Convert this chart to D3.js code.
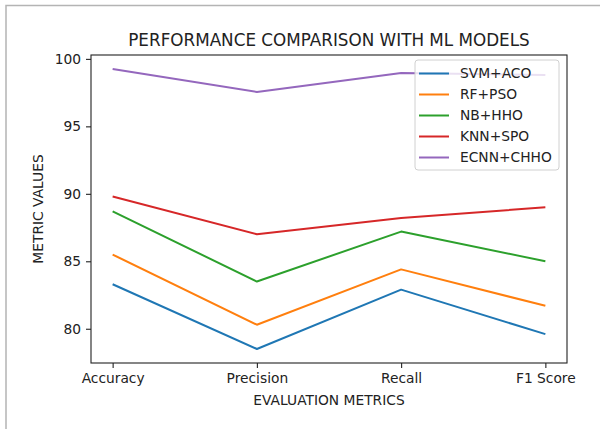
<!DOCTYPE html>
<html>
<head>
<meta charset="utf-8">
<script src="https://cdn.jsdelivr.net/npm/d3@7"></script>
<style>
    body { margin: 0; background: #fff; }
    svg { display: block; font-family: "DejaVu Sans", sans-serif; }
</style>
</head>
<body>
<div id="chart"></div>
<script>
// chart data
const metrics = ['Accuracy', 'Precision', 'Recall', 'F1 Score'];
const models = ['SVM+ACO', 'RF+PSO', 'NB+HHO', 'KNN+SPO', 'ECNN+CHHO'];
const svmAco = [83.3, 78.5, 82.9, 79.6];
const rfPso = [85.5, 80.3, 84.4, 81.7];
const nbHho = [88.7, 83.5, 87.2, 85.0];
const knnSpo = [89.8, 87.0, 88.2, 89.0];
const ecnnChho = [99.25, 97.55, 98.95, 98.8];
const yTicks = [80, 85, 90, 95, 100];

const seriesValues = [svmAco, rfPso, nbHho, knnSpo, ecnnChho];
const colors = ['#1f77b4', '#ff7f0e', '#2ca02c', '#d62728', '#9467bd'];

const width = 600,
    height = 429,
    margin = {top: 55, right: 33, bottom: 66, left: 91};

const svg = d3.select('#chart').append('svg')
    .attr('width', width)
    .attr('height', height);

// light frame round the picture
svg.append('path')
    .attr('d', 'M6,429 V5.5 H600')
    .attr('fill', 'none')
    .attr('stroke', '#b4b4b4')
    .attr('stroke-width', 1.5);

const innerW = width - margin.left - margin.right,
    innerH = height - margin.top - margin.bottom;

const x = d3.scalePoint()
    .domain(metrics)
    .range([0, innerW])
    .padding(0.15);

const allVals = seriesValues.flat();
const lo = d3.min(allVals), hi = d3.max(allVals), pad = (hi - lo) * 0.05;
const y = d3.scaleLinear()
    .domain([lo - pad, hi + pad])
    .range([innerH, 0]);

const g = svg.append('g')
    .attr('transform', 'translate(' + margin.left + ',' + margin.top + ')');

const line = d3.line()
    .x((d, i) => x(metrics[i]))
    .y(d => y(d));

seriesValues.forEach((vals, i) => {
    g.append('path')
        .datum(vals)
        .attr('d', line)
        .attr('fill', 'none')
        .attr('stroke', colors[i])
        .attr('stroke-width', 2)
        .attr('stroke-linejoin', 'round');
});

// axes
const xAxis = g.append('g')
    .attr('transform', 'translate(0,' + innerH + ')')
    .call(d3.axisBottom(x).tickSize(5).tickPadding(5));
const yAxis = g.append('g')
    .call(d3.axisLeft(y).tickValues(yTicks).tickSize(5).tickPadding(5));

[xAxis, yAxis].forEach(a => {
    a.select('.domain').remove();
    a.selectAll('text')
        .attr('font-family', '"DejaVu Sans", sans-serif')
        .attr('font-size', 13.8)
        .attr('fill', '#222');
    a.selectAll('line').attr('stroke', '#222').attr('stroke-width', 1.1);
});

g.append('rect')
    .attr('width', innerW)
    .attr('height', innerH)
    .attr('fill', 'none')
    .attr('stroke', '#222')
    .attr('stroke-width', 1.1);

// labels
svg.append('text')
    .attr('x', margin.left + innerW / 2)
    .attr('y', 45.5)
    .attr('text-anchor', 'middle')
    .attr('font-size', 16.8)
    .attr('fill', '#222')
    .text('PERFORMANCE COMPARISON WITH ML MODELS');

svg.append('text')
    .attr('x', margin.left + innerW / 2)
    .attr('y', 405)
    .attr('text-anchor', 'middle')
    .attr('font-size', 13.8)
    .attr('fill', '#222')
    .text('EVALUATION METRICS');

svg.append('text')
    .attr('transform', 'translate(43,' + (margin.top + innerH / 2) + ') rotate(-90)')
    .attr('text-anchor', 'middle')
    .attr('font-size', 13.8)
    .attr('fill', '#222')
    .text('METRIC VALUES');

// legend
const legend = svg.append('g')
    .attr('transform', 'translate(415,60)');

legend.append('rect')
    .attr('width', 144)
    .attr('height', 110)
    .attr('rx', 3)
    .attr('fill', 'rgba(255,255,255,0.8)')
    .attr('stroke', '#d0d0d0')
    .attr('stroke-width', 1);

models.forEach((m, i) => {
    const row = legend.append('g')
        .attr('transform', 'translate(0,' + (13.5 + i * 21) + ')');
    row.append('line')
        .attr('x1', 4)
        .attr('x2', 34)
        .attr('stroke', colors[i])
        .attr('stroke-width', 2);
    row.append('text')
        .attr('x', 45)
        .attr('dy', '0.35em')
        .attr('font-size', 13.8)
        .attr('fill', '#222')
        .text(m);
});
</script>
</body>
</html>
